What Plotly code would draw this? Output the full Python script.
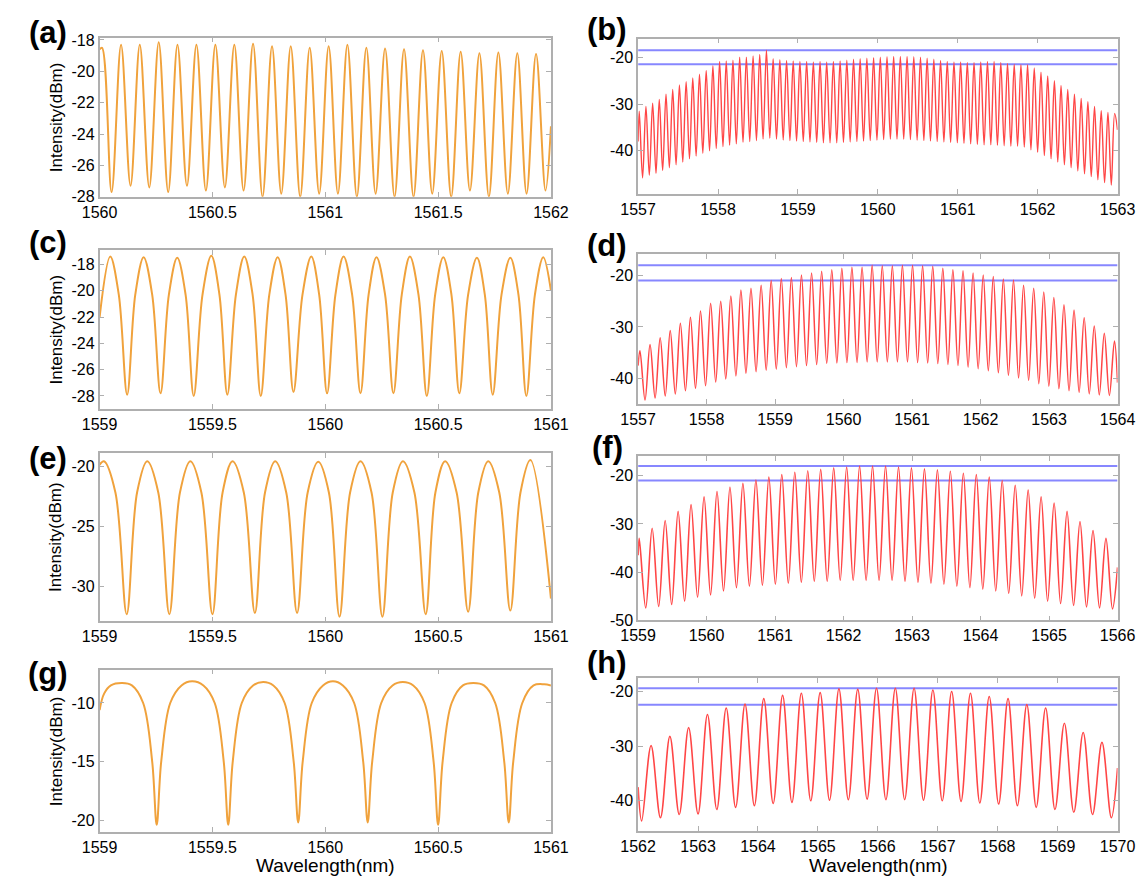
import plotly.graph_objects as go

# ---------------- data ----------------
# (a) orange comb, 1560-1562 nm
a_peak_wl = [1560.011, 1560.095, 1560.178, 1560.262, 1560.345, 1560.429, 1560.513, 1560.597,
             1560.680, 1560.764, 1560.847, 1560.931, 1561.015, 1561.098, 1561.182, 1561.265,
             1561.349, 1561.433, 1561.516, 1561.600, 1561.683, 1561.767, 1561.851, 1561.934]
a_peak_db = [-18.5, -18.3, -18.3, -18.15, -18.3, -18.3, -18.3, -18.3, -18.25, -18.4, -18.4, -18.5,
             -18.4, -18.3, -18.5, -18.55, -18.6, -18.65, -18.7, -18.75, -18.85, -18.8, -18.85, -18.9]
a_dip_wl = [1560.053, 1560.137, 1560.220, 1560.304, 1560.387, 1560.471, 1560.555, 1560.638,
            1560.722, 1560.805, 1560.889, 1560.973, 1561.056, 1561.140, 1561.223, 1561.307,
            1561.391, 1561.474, 1561.558, 1561.641, 1561.725, 1561.809, 1561.892, 1561.976]
a_dip_db = [-27.7, -27.3, -27.4, -27.7, -27.3, -27.6, -27.4, -27.6, -28.0, -27.8, -28.0, -27.8,
            -27.8, -28.0, -27.8, -28.0, -28.0, -27.8, -28.0, -27.6, -28.0, -27.8, -27.8, -27.6]
a_end_wl = [1560.0, 1562.0]
a_end_db = [-18.6, -23.5]

# (c) orange comb, 1559-1561 nm
c_peak_wl = [1559.047, 1559.195, 1559.344, 1559.495, 1559.641, 1559.789, 1559.938, 1560.081,
             1560.227, 1560.375, 1560.523, 1560.672, 1560.820, 1560.966]
c_peak_db = [-17.4, -17.45, -17.5, -17.35, -17.4, -17.45, -17.4, -17.4, -17.45, -17.4, -17.45,
             -17.5, -17.5, -17.45]
c_dip_wl = [1559.122, 1559.270, 1559.417, 1559.566, 1559.714, 1559.859, 1560.008, 1560.156,
            1560.302, 1560.450, 1560.594, 1560.742, 1560.891]
c_dip_db = [-27.9, -27.8, -28.0, -27.9, -28.0, -27.7, -27.8, -27.8, -27.8, -28.0, -27.8, -27.9, -28.0]
c_mid_wl = [1559.085, 1559.158, 1559.233, 1559.307, 1559.381, 1559.456, 1559.531, 1559.604,
            1559.678, 1559.752, 1559.824, 1559.899, 1559.973, 1560.045, 1560.119, 1560.192,
            1560.265, 1560.339, 1560.413, 1560.487, 1560.559, 1560.633, 1560.707, 1560.781,
            1560.856, 1560.929]
c_mid_db = [-20.3, -20.3, -20.3, -20.3, -20.3, -20.3, -20.3, -20.3, -20.3, -20.3, -20.3, -20.3,
            -20.3, -20.3, -20.3, -20.3, -20.3, -20.3, -20.3, -20.3, -20.3, -20.3, -20.3, -20.3,
            -20.3, -20.3]
c_end_wl = [1559.0, 1561.0]
c_end_db = [-22.0, -20.0]

# (e) orange comb, 1559-1561 nm
e_peak_wl = [1559.019, 1559.211, 1559.402, 1559.589, 1559.778, 1559.969, 1560.156, 1560.344,
             1560.531, 1560.722, 1560.909]
e_peak_db = [-19.6, -19.6, -19.6, -19.6, -19.6, -19.65, -19.6, -19.6, -19.6, -19.6, -19.5]
e_dip_wl = [1559.120, 1559.309, 1559.500, 1559.688, 1559.875, 1560.063, 1560.253, 1560.445,
            1560.633, 1560.820]
e_dip_db = [-32.3, -32.3, -32.3, -32.2, -32.2, -32.5, -32.5, -32.3, -32.1, -32.0]
e_mid_wl = [1559.070, 1559.166, 1559.260, 1559.356, 1559.451, 1559.545, 1559.639, 1559.733,
            1559.827, 1559.922, 1560.016, 1560.110, 1560.205, 1560.299, 1560.395, 1560.488,
            1560.582, 1560.678, 1560.771, 1560.865]
e_mid_db = [-22.2, -22.2, -22.2, -22.2, -22.2, -22.2, -22.2, -22.2, -22.2, -22.2,
            -22.2, -22.2, -22.2, -22.2, -22.2, -22.2, -22.2, -22.2, -22.2, -22.2]
e_end_wl = [1559.0, 1561.0]
e_end_db = [-19.9, -31.0]

# (g) orange comb with flat tops, 1559-1561 nm
g_wl = [1559.000, 1559.020, 1559.050, 1559.100, 1559.143, 1559.193, 1559.233, 1559.253, 1559.273,
        1559.313, 1559.363, 1559.410, 1559.460, 1559.510, 1559.550, 1559.570, 1559.590, 1559.630,
        1559.680, 1559.725, 1559.770, 1559.820, 1559.860, 1559.880, 1559.900, 1559.940, 1559.990,
        1560.034, 1560.078, 1560.128, 1560.168, 1560.188, 1560.208, 1560.248, 1560.298, 1560.344,
        1560.390, 1560.440, 1560.480, 1560.500, 1560.520, 1560.560, 1560.610, 1560.656, 1560.703,
        1560.753, 1560.793, 1560.813, 1560.833, 1560.873, 1560.923, 1560.970, 1561.000]
g_db = [-10.6, -9.2, -8.5, -8.3, -8.5, -10.0, -15.0, -20.4, -15.0,
        -10.0, -8.5, -8.15, -8.5, -10.0, -15.0, -20.4, -15.0, -10.0,
        -8.5, -8.2, -8.5, -10.0, -15.0, -20.2, -15.0, -10.0, -8.5,
        -8.15, -8.5, -10.0, -15.0, -20.2, -15.0, -10.0, -8.5, -8.2,
        -8.5, -10.0, -15.0, -20.4, -15.0, -10.0, -8.5, -8.3, -8.5,
        -10.0, -15.0, -20.2, -15.0, -10.0, -8.5, -8.4, -8.5]

# (b) red comb, 1557-1563 nm
b_peak_wl = [1557.014, 1557.098, 1557.182, 1557.265, 1557.349, 1557.433, 1557.517, 1557.601,
             1557.684, 1557.768, 1557.852, 1557.936, 1558.020, 1558.103, 1558.187, 1558.271,
             1558.355, 1558.439, 1558.522, 1558.606, 1558.690, 1558.774, 1558.858, 1558.941,
             1559.025, 1559.109, 1559.193, 1559.277, 1559.360, 1559.444, 1559.528, 1559.612,
             1559.696, 1559.779, 1559.863, 1559.947, 1560.031, 1560.115, 1560.198, 1560.282,
             1560.366, 1560.450, 1560.534, 1560.617, 1560.701, 1560.785, 1560.869, 1560.953,
             1561.036, 1561.120, 1561.204, 1561.288, 1561.372, 1561.455, 1561.539, 1561.623,
             1561.707, 1561.791, 1561.874, 1561.958, 1562.042, 1562.126, 1562.210, 1562.293,
             1562.377, 1562.461, 1562.545, 1562.629, 1562.712, 1562.796, 1562.880, 1562.964]
b_peak_db = [-31.5, -30.5, -29.8, -29.0, -27.9, -26.9, -25.9, -25.2, -24.4, -23.6,
             -22.8, -21.8, -20.9, -20.8, -20.6, -20.0, -20.0, -19.7, -19.4, -18.5,
             -20.3, -20.5, -20.7, -20.8, -20.9, -20.9, -21.0, -20.9, -21.0, -20.9,
             -20.8, -20.6, -20.4, -20.3, -20.2, -20.1, -20.0, -19.9, -19.8, -19.8,
             -19.8, -19.9, -20.0, -20.2, -20.4, -20.7, -20.9, -21.0, -21.0, -21.1,
             -21.1, -21.0, -20.9, -20.9, -21.1, -21.3, -21.5, -21.6, -21.6, -22.3,
             -23.2, -24.0, -25.0, -26.0, -26.9, -27.9, -28.8, -29.5, -30.5, -31.4,
             -31.8, -32.0]
b_dip_wl = [1557.056, 1557.140, 1557.224, 1557.307, 1557.391, 1557.475, 1557.559, 1557.643,
            1557.726, 1557.810, 1557.894, 1557.978, 1558.062, 1558.145, 1558.229, 1558.313,
            1558.397, 1558.481, 1558.564, 1558.648, 1558.732, 1558.816, 1558.900, 1558.983,
            1559.067, 1559.151, 1559.235, 1559.319, 1559.402, 1559.486, 1559.570, 1559.654,
            1559.738, 1559.821, 1559.905, 1559.989, 1560.073, 1560.157, 1560.240, 1560.324,
            1560.408, 1560.492, 1560.576, 1560.659, 1560.743, 1560.827, 1560.911, 1560.995,
            1561.078, 1561.162, 1561.246, 1561.330, 1561.414, 1561.497, 1561.581, 1561.665,
            1561.749, 1561.833, 1561.916, 1562.000, 1562.084, 1562.168, 1562.252, 1562.335,
            1562.419, 1562.503, 1562.587, 1562.671, 1562.754, 1562.838, 1562.922]
b_dip_db = [-45.8, -45.2, -44.8, -44.2, -43.6, -43.0, -42.4, -41.7, -41.1, -40.5,
            -40.0, -39.5, -39.1, -38.8, -38.5, -38.2, -38.0, -37.8, -37.5, -37.3,
            -37.5, -37.7, -37.8, -37.9, -38.0, -38.1, -38.2, -38.3, -38.3, -38.3,
            -38.2, -38.1, -38.0, -37.9, -37.8, -37.7, -37.6, -37.5, -37.5, -37.5,
            -37.6, -37.7, -37.8, -37.9, -38.0, -38.1, -38.2, -38.3, -38.4, -38.5,
            -38.6, -38.7, -38.7, -38.8, -38.9, -39.0, -39.0, -39.2, -39.8, -40.3,
            -41.0, -41.7, -42.4, -43.0, -43.6, -44.3, -44.9, -45.5, -46.2, -46.8,
            -47.3]
b_end_wl = [1557.0, 1563.0]
b_end_db = [-38.0, -35.5]
b_levels = [-18.5, -21.5]

# (d) red comb, 1557-1564 nm
d_peak_wl = [1557.027, 1557.174, 1557.322, 1557.469, 1557.617, 1557.764, 1557.911, 1558.059,
             1558.206, 1558.354, 1558.501, 1558.648, 1558.796, 1558.943, 1559.091, 1559.238,
             1559.385, 1559.533, 1559.680, 1559.828, 1559.975, 1560.122, 1560.270, 1560.417,
             1560.565, 1560.712, 1560.859, 1561.007, 1561.154, 1561.302, 1561.449, 1561.596,
             1561.744, 1561.891, 1562.039, 1562.186, 1562.333, 1562.481, 1562.628, 1562.776,
             1562.923, 1563.070, 1563.218, 1563.365, 1563.513, 1563.660, 1563.807, 1563.955]
d_peak_db = [-34.6, -33.4, -32.1, -30.7, -29.3, -28.1, -26.9, -25.4, -25.0, -24.0,
             -22.8, -22.5, -21.9, -21.0, -20.6, -20.4, -19.9, -19.5, -19.2, -18.9,
             -18.6, -18.4, -18.4, -18.0, -18.1, -18.1, -18.0, -18.0, -18.1, -18.2,
             -18.6, -18.9, -19.1, -19.5, -19.9, -20.2, -20.7, -20.9, -21.9, -22.5,
             -23.2, -24.3, -25.7, -26.7, -28.2, -29.8, -31.2, -32.7]
d_dip_wl = [1557.101, 1557.248, 1557.396, 1557.543, 1557.691, 1557.838, 1557.985, 1558.133,
            1558.280, 1558.428, 1558.575, 1558.722, 1558.870, 1559.017, 1559.165, 1559.312,
            1559.459, 1559.607, 1559.754, 1559.902, 1560.049, 1560.196, 1560.344, 1560.491,
            1560.639, 1560.786, 1560.933, 1561.081, 1561.228, 1561.376, 1561.523, 1561.670,
            1561.818, 1561.965, 1562.113, 1562.260, 1562.407, 1562.555, 1562.702, 1562.850,
            1562.997, 1563.144, 1563.292, 1563.439, 1563.587, 1563.734, 1563.881]
d_dip_db = [-44.2, -43.8, -43.4, -43.0, -42.4, -41.9, -41.4, -40.7, -40.1, -39.5,
            -39.0, -38.7, -38.4, -38.2, -37.9, -37.7, -37.5, -37.3, -37.1, -37.0,
            -36.9, -36.9, -36.8, -36.8, -36.8, -36.8, -36.8, -36.9, -37.0, -37.1,
            -37.3, -37.5, -37.8, -38.1, -38.5, -38.9, -39.4, -39.9, -40.4, -41.0,
            -41.5, -42.0, -42.4, -42.7, -43.0, -43.2, -43.3]
d_end_wl = [1557.0, 1564.0]
d_end_db = [-37.5, -40.8]
d_levels = [-18.0, -21.0]

# (f) red comb, 1559-1566 nm
f_peak_wl = [1559.016, 1559.205, 1559.395, 1559.584, 1559.773, 1559.963, 1560.152, 1560.341,
             1560.530, 1560.720, 1560.909, 1561.098, 1561.288, 1561.477, 1561.666, 1561.856,
             1562.045, 1562.234, 1562.423, 1562.613, 1562.802, 1562.991, 1563.181, 1563.370,
             1563.559, 1563.749, 1563.938, 1564.127, 1564.316, 1564.506, 1564.695, 1564.884,
             1565.074, 1565.263, 1565.452, 1565.642, 1565.831]
f_peak_db = [-33.0, -30.9, -29.3, -27.4, -26.0, -24.4, -23.3, -22.4, -21.6, -20.9,
             -20.3, -19.8, -19.3, -19.0, -18.7, -18.4, -18.2, -18.0, -18.0, -18.0,
             -18.2, -18.4, -18.6, -18.8, -19.1, -19.5, -19.8, -20.3, -21.0, -22.0,
             -23.0, -24.4, -25.7, -27.4, -29.5, -31.4, -33.0]
f_dip_wl = [1559.111, 1559.300, 1559.490, 1559.679, 1559.868, 1560.058, 1560.247, 1560.436,
            1560.625, 1560.815, 1561.004, 1561.193, 1561.383, 1561.572, 1561.761, 1561.951,
            1562.140, 1562.329, 1562.518, 1562.708, 1562.897, 1563.086, 1563.276, 1563.465,
            1563.654, 1563.844, 1564.033, 1564.222, 1564.411, 1564.601, 1564.790, 1564.979,
            1565.169, 1565.358, 1565.547, 1565.737, 1565.926]
f_dip_db = [-47.4, -47.1, -46.7, -46.0, -45.2, -44.7, -43.9, -43.2, -42.9, -42.7,
            -42.5, -42.3, -42.1, -41.9, -41.9, -41.7, -41.7, -41.7, -41.7, -41.7,
            -41.9, -42.1, -42.3, -42.5, -42.9, -43.2, -43.5, -43.9, -44.4, -44.9,
            -45.4, -46.0, -46.5, -46.9, -47.2, -47.4, -47.6]
f_end_wl = [1559.0, 1566.0]
f_end_db = [-36.5, -39.0]
f_levels = [-18.0, -21.0]

# (h) red comb, 1562-1570 nm
h_peak_wl = [1562.216, 1562.530, 1562.843, 1563.157, 1563.470, 1563.784, 1564.097, 1564.411,
             1564.724, 1565.038, 1565.351, 1565.665, 1565.978, 1566.292, 1566.605, 1566.919,
             1567.232, 1567.546, 1567.859, 1568.173, 1568.486, 1568.800, 1569.113, 1569.427,
             1569.740]
h_peak_db = [-29.9, -28.2, -26.6, -24.2, -23.0, -22.3, -21.3, -20.7, -20.3, -20.2,
             -19.5, -19.6, -19.4, -19.4, -19.4, -19.7, -20.0, -20.3, -20.9, -21.3,
             -22.4, -23.0, -25.8, -27.5, -29.3]
h_dip_wl = [1562.059, 1562.373, 1562.686, 1563.000, 1563.313, 1563.627, 1563.940, 1564.254,
            1564.567, 1564.881, 1565.194, 1565.508, 1565.821, 1566.135, 1566.448, 1566.762,
            1567.075, 1567.389, 1567.702, 1568.016, 1568.329, 1568.643, 1568.956, 1569.270,
            1569.583, 1569.897]
h_dip_db = [-43.7, -43.1, -42.5, -42.4, -41.6, -41.2, -40.9, -40.5, -40.3, -40.0,
            -39.9, -39.8, -39.7, -39.8, -39.8, -39.9, -40.0, -40.1, -40.4, -40.6,
            -40.9, -41.2, -41.6, -42.1, -42.5, -43.1]
h_end_wl = [1562.0, 1570.0]
h_end_db = [-37.5, -34.0]
h_levels = [-19.4, -22.4]

# tick labels
a_xticks = [1560, 1560.5, 1561, 1561.5, 1562]
a_yticks = [-18, -20, -22, -24, -26, -28]
b_xticks = [1557, 1558, 1559, 1560, 1561, 1562, 1563]
b_yticks = [-20, -30, -40]
c_xticks = [1559, 1559.5, 1560, 1560.5, 1561]
c_yticks = [-18, -20, -22, -24, -26, -28]
d_xticks = [1557, 1558, 1559, 1560, 1561, 1562, 1563, 1564]
d_yticks = [-20, -30, -40]
e_xticks = [1559, 1559.5, 1560, 1560.5, 1561]
e_yticks = [-20, -25, -30]
f_xticks = [1559, 1560, 1561, 1562, 1563, 1564, 1565, 1566]
f_yticks = [-20, -30, -40, -50]
g_xticks = [1559, 1559.5, 1560, 1560.5, 1561]
g_yticks = [-10, -15, -20]
h_xticks = [1562, 1563, 1564, 1565, 1566, 1567, 1568, 1569, 1570]
h_yticks = [-20, -30, -40]

panel_letters = ["(a)", "(b)", "(c)", "(d)", "(e)", "(f)", "(g)", "(h)"]
y_title = "Intensity(dBm)"
x_title = "Wavelength(nm)"

# ---------------- figure ----------------
W, H = 1144, 879
ORANGE = "#F0A23C"
RED = "rgb(255,70,70)"
BLUE = "rgb(135,135,255)"
FRAME = "rgb(175,175,175)"
FONT = "Liberation Sans, Arial, sans-serif"


def merge(*pairs):
    pts = []
    for xs, ys in pairs:
        pts.extend(zip(xs, ys))
    pts.sort(key=lambda p: p[0])
    return [p[0] for p in pts], [p[1] for p in pts]


def fmt(v):
    return "%g" % v


# pixel boxes: (x0, x1, y0, y1) with y from top
boxes = {
    1: (76, 542, 24, 186),
    2: (632, 1127, 25, 183),
    3: (76, 542, 240, 402),
    4: (632, 1127, 244, 397),
    5: (76, 542, 447, 618),
    6: (632, 1127, 450, 617),
    7: (76, 542, 667, 832),
    8: (632, 1127, 676, 831),
}

panels = [
    (1, merge((a_peak_wl, a_peak_db), (a_dip_wl, a_dip_db), (a_end_wl, a_end_db)), ORANGE, 2.0,
     [1560, 1562], [-28, -17.85], a_xticks, a_yticks, None),
    (2, merge((b_peak_wl, b_peak_db), (b_dip_wl, b_dip_db), (b_end_wl, b_end_db)), RED, 1.4,
     [1557, 1563], [-49.2, -16], b_xticks, b_yticks, b_levels),
    (3, merge((c_peak_wl, c_peak_db), (c_dip_wl, c_dip_db), (c_mid_wl, c_mid_db), (c_end_wl, c_end_db)),
     ORANGE, 2.0, [1559, 1561], [-29, -16.9], c_xticks, c_yticks, None),
    (4, merge((d_peak_wl, d_peak_db), (d_dip_wl, d_dip_db), (d_end_wl, d_end_db)), RED, 1.5,
     [1557, 1564], [-45, -15.8], d_xticks, d_yticks, d_levels),
    (5, merge((e_peak_wl, e_peak_db), (e_dip_wl, e_dip_db), (e_mid_wl, e_mid_db), (e_end_wl, e_end_db)),
     ORANGE, 2.0, [1559, 1561], [-32.9, -18.95], e_xticks, e_yticks, None),
    (6, merge((f_peak_wl, f_peak_db), (f_dip_wl, f_dip_db), (f_end_wl, f_end_db)), RED, 1.6,
     [1559, 1566], [-50, -16], f_xticks, f_yticks, f_levels),
    (7, (g_wl, g_db), ORANGE, 2.0, [1559, 1561], [-21, -7.15], g_xticks, g_yticks, None),
    (8, merge((h_peak_wl, h_peak_db), (h_dip_wl, h_dip_db), (h_end_wl, h_end_db)), RED, 1.6,
     [1562, 1570], [-45.5, -17.6], h_xticks, h_yticks, h_levels),
]

fig = go.Figure()
layout = dict(width=W, height=H, margin=dict(l=0, r=0, t=0, b=0), autosize=False,
              paper_bgcolor="white", plot_bgcolor="white", showlegend=False,
              font=dict(family=FONT, size=16, color="black"))

annotations = []
for (i, (xs, ys), color, lw, xr, yr, xt, yt, levels) in panels:
    x0, x1, y0, y1 = boxes[i]
    xa = "x" if i == 1 else "x%d" % i
    ya = "y" if i == 1 else "y%d" % i
    if levels:
        for lv in levels:
            fig.add_trace(go.Scatter(x=xr, y=[lv, lv], mode="lines", xaxis=xa, yaxis=ya,
                                     line=dict(color=BLUE, width=2), hoverinfo="skip"))
    fig.add_trace(go.Scatter(x=xs, y=ys, mode="lines", xaxis=xa, yaxis=ya,
                             line=dict(color=color, width=lw, shape="spline", smoothing=1.0)))
    axis_common = dict(showgrid=False, zeroline=False, showline=True, linecolor=FRAME, linewidth=1.5,
                       mirror="ticks", ticks="inside", ticklen=5, tickcolor=FRAME, tickwidth=1,
                       tickfont=dict(family=FONT, size=16, color="black"))
    layout["xaxis" if i == 1 else "xaxis%d" % i] = dict(
        axis_common, domain=[x0 / W, x1 / W], anchor=ya, range=xr,
        tickvals=xt, ticktext=[fmt(v) for v in xt])
    layout["yaxis" if i == 1 else "yaxis%d" % i] = dict(
        axis_common, domain=[1 - y1 / H, 1 - y0 / H], anchor=xa, range=yr,
        tickvals=yt, ticktext=[fmt(v) for v in yt])

# panel letters
letter_pos = [(23, 19), (600, 16), (23, 232), (600, 236), (23, 452), (600, 441), (23, 671), (600, 660)]
for txt, (px, py) in zip(panel_letters, letter_pos):
    annotations.append(dict(text="<b>%s</b>" % txt, x=px / W, y=1 - py / H, xref="paper", yref="paper",
                            showarrow=False, xanchor="center", yanchor="middle",
                            font=dict(family=FONT, size=31, color="black")))
# y titles
for py in [105, 321, 532, 750]:
    annotations.append(dict(text=y_title, x=31 / W, y=1 - py / H, xref="paper", yref="paper",
                            showarrow=False, textangle=-90, xanchor="center", yanchor="middle",
                            font=dict(family=FONT, size=17, color="black")))
# x titles
for px in [309, 880]:
    annotations.append(dict(text=x_title, x=px / W, y=1 - 866 / H, xref="paper", yref="paper",
                            showarrow=False, xanchor="center", yanchor="middle",
                            font=dict(family=FONT, size=19, color="black")))

layout["annotations"] = annotations
fig.update_layout(**layout)
fig.write_html("out.html")
